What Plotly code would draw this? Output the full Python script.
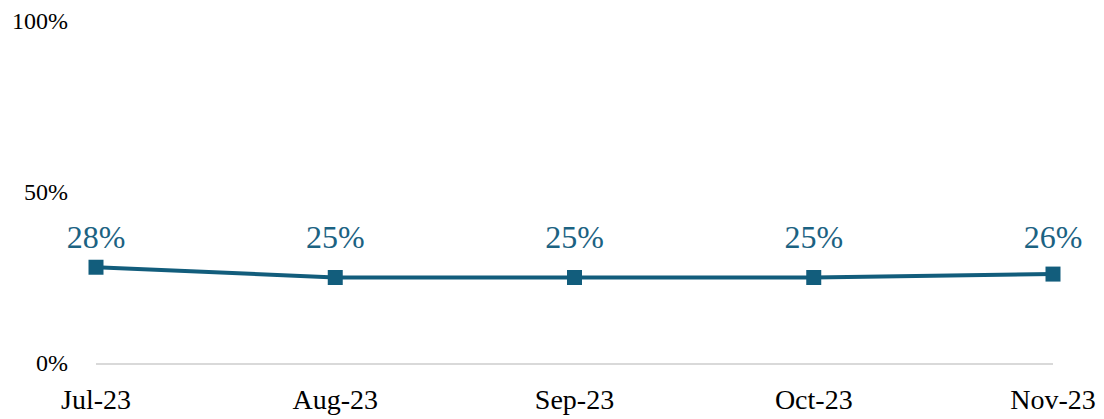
import plotly.graph_objects as go

months = ["Jul-23", "Aug-23", "Sep-23", "Oct-23", "Nov-23"]
share = [28, 25, 25, 25, 26]
labels = [f"{v}%" for v in share]
y_ticks = [0, 50, 100]
y_tick_text = ["0%", "50%", "100%"]

line_col = "#125D7C"
label_level = 36  # labels sit on one row above the line, in axis units

x_idx = list(range(len(months)))

fig = go.Figure()
fig.add_trace(go.Scatter(
    x=x_idx,
    y=share,
    mode="lines+markers",
    line=dict(color=line_col, width=4),
    marker=dict(symbol="square", size=15, color=line_col),
    cliponaxis=False,
    showlegend=False,
))
fig.add_trace(go.Scatter(
    x=x_idx,
    y=[label_level] * len(share),
    mode="text",
    text=labels,
    textposition="middle center",
    textfont=dict(family="Liberation Serif", size=32, color="#1B6282"),
    cliponaxis=False,
    showlegend=False,
    hoverinfo="skip",
))

# the page body adds an 8px offset, so the figure is 8px smaller each way
fig.update_layout(
    width=1096, height=411,
    margin=dict(l=88, r=51, t=13, b=56, autoexpand=False),
    plot_bgcolor="white", paper_bgcolor="white",
    font=dict(family="Liberation Serif", size=24, color="#000000"),
)
fig.update_xaxes(
    range=[0, len(months) - 1],
    tickvals=x_idx,
    ticktext=months,
    tickfont=dict(size=28),
    showgrid=False, zeroline=False,
    showline=True, linecolor="#d9d9d9", linewidth=2,
    ticks="", ticklabelstandoff=10, automargin=False,
)
fig.update_yaxes(
    range=[0, 100],
    tickvals=y_ticks, ticktext=y_tick_text,
    showgrid=False, zeroline=False, showline=False,
    ticks="", ticklabelstandoff=27, automargin=False,
)

fig.write_html("out.html")
